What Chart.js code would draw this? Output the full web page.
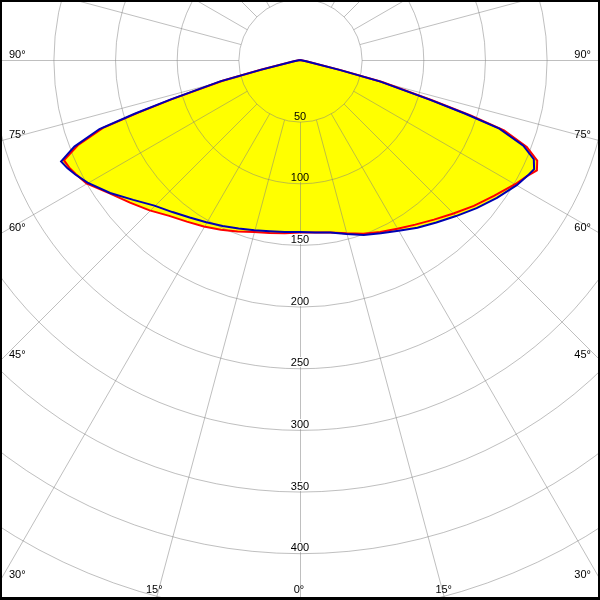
<!DOCTYPE html>
<html><head><meta charset="utf-8">
<script src="https://cdn.jsdelivr.net/npm/chart.js@4.4.1/dist/chart.umd.min.js"></script>
<style>html,body{margin:0;padding:0;background:#fff}canvas{display:block}</style>
</head><body>
<canvas id="c" width="600" height="600"></canvas>
<script>
// Gamma angles (degrees from nadir) and luminous intensity readings (cd/klm)
const gammaAngles = [0,5,10,15,20,25,30,35,40,45,50,55,60,63,65,67,69,71,72,73,75,76,78,90];
const blueLeft  = [139.5,140,141,143,145.5,148.5,152,156,161,167,176.5,188,199,204.5,208,210.5,196,172,141,110,67,33,5,0];
const redLeft   = [140,141,142.5,144.5,148,152,156,160,165,172.5,180,188.5,200,204,206.5,208,193,169,138,108,65,32,5,0];
const blueRight = [139.5,140.5,142,146,151,155,160,166,172,179,187,195,203,207,209.5,206,194,171,141,110,67,33,5,0];
const redRight  = [140,140.5,142,145.5,150,154,158,163,169,176,184,192,201.5,207,212,209,197,175,145,113,69,34,6,0];

const ringValues = [50,100,150,200,250,300,350,400,450,500,550];
const ringLabels = ["50","100","150","200","250","300","350","400"];
const angleTicks = [0,15,30,45,60,75,90];
const angleTickLabels = ["0°","15°","30°","45°","60°","75°","90°"];
const spokeStep = 15;

const FONT = '11px "Liberation Sans", Arial, sans-serif';

function toPoints(left, right) {
  const pts = [];
  for (let i = gammaAngles.length - 1; i >= 0; i--) {
    const a = gammaAngles[i] * Math.PI / 180;
    pts.push({x: -left[i] * Math.sin(a), y: -left[i] * Math.cos(a)});
  }
  for (let i = 0; i < gammaAngles.length; i++) {
    const a = gammaAngles[i] * Math.PI / 180;
    pts.push({x: right[i] * Math.sin(a), y: -right[i] * Math.cos(a)});
  }
  return pts;
}

let fillPath = null;

const polarGrid = {
  id: 'polarGrid',
  beforeDatasetsDraw(chart) {
    const {ctx, chartArea: ca, scales: {x, y}} = chart;
    const cx = x.getPixelForValue(0), cy = y.getPixelForValue(0);
    const rpx = v => x.getPixelForValue(v) - cx;
    ctx.save();
    ctx.beginPath(); ctx.rect(ca.left, ca.top, ca.right - ca.left, ca.bottom - ca.top); ctx.clip();
    // yellow fill of the curves
    fillPath = new Path2D();
    chart.data.datasets.forEach((ds, i) => {
      const pts = chart.getDatasetMeta(i).data;
      pts.forEach((p, k) => k ? fillPath.lineTo(p.x, p.y) : fillPath.moveTo(p.x, p.y));
      fillPath.closePath();
    });
    ctx.fillStyle = '#ffff00';
    ctx.fill(fillPath, 'nonzero');
    // grid
    const gx = cx + 0.5, gy = cy + 0.5;
    ctx.strokeStyle = 'rgba(128,128,128,0.5)';
    ctx.lineWidth = 1;
    ringValues.forEach(v => { ctx.beginPath(); ctx.arc(gx, gy, rpx(v), 0, Math.PI * 2); ctx.stroke(); });
    const r0 = rpx(ringValues[0]), r1 = rpx(ringValues[ringValues.length - 1]) * 2;
    for (let a = 0; a < 360; a += spokeStep) {
      const t = a * Math.PI / 180, sx = Math.sin(t), sy = Math.cos(t);
      ctx.beginPath();
      ctx.moveTo(gx + r0 * sx, gy + r0 * sy);
      ctx.lineTo(gx + r1 * sx, gy + r1 * sy);
      ctx.stroke();
    }
    // label backgrounds
    ctx.font = FONT;
    ringLabels.forEach((t, i) => {
      const yb = Math.round(cy + rpx(ringValues[i])) - 2;
      const w = ctx.measureText(t).width;
      const inside = ctx.isPointInPath(fillPath, cx, yb - 4);
      ctx.fillStyle = inside ? '#ffff00' : '#ffffff';
      ctx.fillRect(Math.round(cx - w / 2) - 1, yb - 9, Math.ceil(w) + 2, 10);
    });
    ctx.restore();
  },
  afterDatasetsDraw(chart) {
    const {ctx, chartArea: ca, scales: {x, y}} = chart;
    const cx = x.getPixelForValue(0), cy = y.getPixelForValue(0);
    const rpx = v => x.getPixelForValue(v) - cx;
    ctx.save();
    ctx.font = FONT;
    ctx.fillStyle = '#000';
    ctx.textBaseline = 'alphabetic';
    ctx.textAlign = 'center';
    ringLabels.forEach((t, i) => {
      const yb = Math.round(cy + rpx(ringValues[i])) - 2;
      ctx.fillText(t, cx, yb);
    });
    angleTicks.forEach((a, i) => {
      const label = angleTickLabels[i];
      const sides = a === 0 ? [1] : [-1, 1];
      const t = a * Math.PI / 180, sx = Math.sin(t), sy = Math.cos(t);
      sides.forEach(s => {
        const tSide = sx > 1e-9 ? (s < 0 ? cx - ca.left : ca.right - cx) / sx : Infinity;
        const tBot = sy > 1e-9 ? (ca.bottom - cy) / sy : Infinity;
        if (tSide < tBot) {
          const yh = cy + tSide * sy;
          ctx.textAlign = s < 0 ? 'left' : 'right';
          ctx.fillText(label, s < 0 ? ca.left + 9 : ca.right - 9, Math.round(yh) - 2);
        } else {
          const xh = cx + s * tBot * sx;
          ctx.textAlign = 'center';
          ctx.fillText(label, xh - 1, ca.bottom - 7);
        }
      });
    });
    ctx.restore();
  },
  afterDraw(chart) {
    const {ctx, width, height} = chart;
    ctx.save();
    ctx.fillStyle = '#000';
    ctx.fillRect(0, 0, width, 2);
    ctx.fillRect(0, 0, 2, height);
    ctx.fillRect(width - 2, 0, 2, height);
    ctx.fillRect(0, height - 3, width, 3);
    ctx.restore();
  }
};

const pxPerUnit = 1.233;
new Chart(document.getElementById('c'), {
  type: 'scatter',
  data: {
    datasets: [
      {data: toPoints(blueLeft, blueRight), showLine: true, borderColor: '#0000b4', borderWidth: 2, pointRadius: 0, fill: false, tension: 0},
      {data: toPoints(redLeft, redRight), showLine: true, borderColor: '#ff0000', borderWidth: 2, pointRadius: 0, fill: false, tension: 0}
    ]
  },
  options: {
    responsive: false,
    animation: false,
    devicePixelRatio: 1,
    layout: {padding: 0},
    plugins: {legend: {display: false}, tooltip: {enabled: false}},
    scales: {
      x: {type: 'linear', display: false, min: -300 / pxPerUnit, max: 300 / pxPerUnit},
      y: {type: 'linear', display: false, min: -540 / pxPerUnit, max: 60 / pxPerUnit}
    }
  },
  plugins: [polarGrid]
});
</script>
</body></html>
